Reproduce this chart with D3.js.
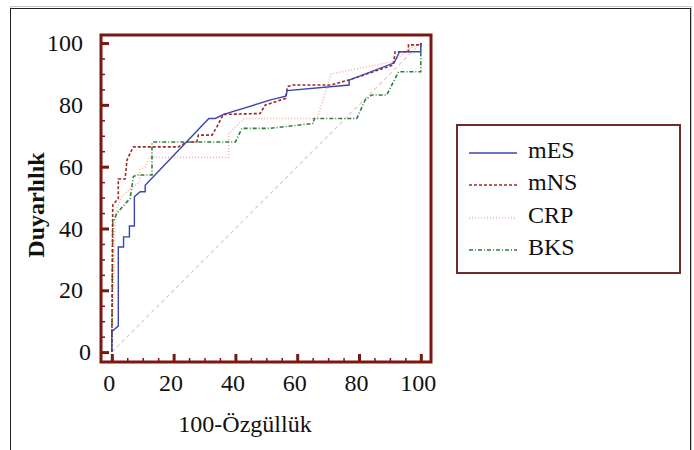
<!DOCTYPE html>
<html>
<head>
<meta charset="utf-8">
<title>ROC</title>
<script src="https://cdn.jsdelivr.net/npm/d3@7"></script>
<style>
  body { margin: 0; background: #fff; }
  text { font-family: "Liberation Serif", "Times New Roman", serif; fill: #111; }
</style>
</head>
<body>
<div id="chart"></div>
<script>
// ROC curves (x = 100-specificity, y = sensitivity)
var mES = [[0,0],[0,6.6],[2.1,8.5],[2.1,34],[3.8,34],[3.8,37.3],[5.7,37.3],[5.7,40.8],[7.3,40.8],[7.3,50.3],
  [9.2,51.9],[10.8,51.9],[10.8,54],[31.4,75.6],[33.5,75.6],[36.2,76.9],[51.4,81.6],[56.3,82.8],[56.8,84.6],
  [76.8,86.4],[76.8,88],[91.4,93.6],[93.1,97.2],[100,97.2],[100,100]];
var mNS = [[0,0],[0.3,47.6],[2.1,49.7],[2.1,56],[4.3,56],[4.9,62.1],[6,64.5],[7,66.4],[21.5,66.4],[24.3,68],
  [27.5,68],[28,70.2],[32.4,70.2],[34,72.9],[36.1,76.9],[48,77.2],[49.6,79.9],[56.3,82.1],[56.8,85.9],
  [58.8,86.4],[70.7,86.4],[76.6,88],[91.1,92.9],[91.7,97.2],[96,97.2],[96,99.4],[100,99.4],[100,100]];
var CRP = [[0,0],[0.5,20],[1,40],[1.5,46],[3,50],[6,53],[9,55],[9,59],[11,60],[12,63],[37.8,63],[37.8,70.8],
  [43,75.6],[66.5,75.6],[71,90],[91,94],[96,98],[100,100]];
var BKS = [[0,0],[0.3,41.7],[1.6,44.9],[5.9,49.7],[7,56.8],[8.1,57.3],[13,57.3],[13,67.5],[13.5,68],[40,68],
  [42.1,72.4],[51.2,72.4],[65.2,74],[65.5,75.6],[79.3,75.6],[82,81.6],[84.1,83.2],[89,83.2],[92.8,90.7],
  [100,90.7],[100,100]];
var diagonal = [[0,0],[100,100]];

var seriesNames = ["mES", "mNS", "CRP", "BKS"];
var seriesData = [mES, mNS, CRP, BKS];
var colors = ["#3a45b0", "#9c2b27", "#f6b3a4", "#2f7d3c"];
var dashes = [null, "3,2", "1,2", "4,2,1,2"];
var majorTicks = [0, 20, 40, 60, 80, 100];
var minorTicks = d3.range(0, 101, 5);

var W = 694, H = 450;
var svg = d3.select("#chart").append("svg").attr("width", W).attr("height", H);
svg.append("rect").attr("width", W).attr("height", H).attr("fill", "#fff");

// outer frame
svg.append("rect").attr("x", 10.5).attr("y", 6.5).attr("width", 681).attr("height", 470)
  .attr("fill", "none").attr("stroke", "#c8c8c8");
svg.append("rect").attr("x", 10.5).attr("y", 8.5).attr("width", 680).attr("height", 470)
  .attr("fill", "none").attr("stroke", "#222");

var x = d3.scaleLinear().domain([-3.5, 103.3]).range([101, 431]);
var y = d3.scaleLinear().domain([-3.2, 102.6]).range([362, 35]);
var axisCol = "#7a1812";

var line = d3.line().x(function(d) { return x(d[0]); }).y(function(d) { return y(d[1]); });

// chance line
svg.append("path").datum(diagonal).attr("d", line).attr("fill", "none")
  .attr("stroke", "#e6c9c9").attr("stroke-width", 1.2).attr("stroke-dasharray", "4,3");

// curves, drawn back to front
[2, 3, 1, 0].forEach(function(i) {
  svg.append("path").datum(seriesData[i]).attr("d", line).attr("fill", "none")
    .attr("stroke", colors[i]).attr("stroke-width", i == 0 ? 1.4 : 1.6)
    .attr("stroke-dasharray", dashes[i]);
});

// axes: minor ticks
var minL = svg.append("g").attr("transform", "translate(101,0)")
  .call(d3.axisLeft(y).tickValues(minorTicks).tickSize(-4).tickFormat(""));
var minB = svg.append("g").attr("transform", "translate(0,362)")
  .call(d3.axisBottom(x).tickValues(minorTicks).tickSize(-4).tickFormat(""));
// major ticks with labels
var majL = svg.append("g").attr("transform", "translate(101,0)")
  .call(d3.axisLeft(y).tickValues(majorTicks).tickSize(-8).tickPadding(18));
var majB = svg.append("g").attr("transform", "translate(0,362)")
  .call(d3.axisBottom(x).tickValues(majorTicks).tickSize(-8).tickPadding(12));

[minL, minB, majL, majB].forEach(function(g) {
  g.select(".domain").remove();
  g.selectAll("line").attr("stroke", axisCol);
});
minL.selectAll("line").attr("stroke-width", 1.5);
minB.selectAll("line").attr("stroke-width", 1.5);
majL.selectAll("line").attr("stroke-width", 3);
majB.selectAll("line").attr("stroke-width", 3);
[majL, majB].forEach(function(g) {
  g.selectAll("text").attr("font-size", 24).attr("fill", "#111")
    .attr("font-family", "'Liberation Serif', 'Times New Roman', serif");
});
majB.selectAll("text").attr("dx", -3);
majL.selectAll("text").filter(function(d) { return d === 0; }).attr("dx", 8);

// plot frame
svg.append("rect").attr("x", 101).attr("y", 35).attr("width", 330).attr("height", 327)
  .attr("fill", "none").attr("stroke", axisCol).attr("stroke-width", 3);

// axis titles
svg.append("text").attr("x", 245).attr("y", 432).attr("text-anchor", "middle")
  .attr("font-size", 24).text("100-Özgüllük");
svg.append("text").attr("transform", "translate(44,205) rotate(-90)").attr("text-anchor", "middle")
  .attr("font-size", 24).attr("font-weight", "bold").text("Duyarlılık");

// legend
svg.append("rect").attr("x", 457).attr("y", 125).attr("width", 223).attr("height", 148)
  .attr("fill", "#fff").attr("stroke", "#6e2b2b").attr("stroke-width", 2);
var rowsY = [150, 182, 215, 247];
seriesNames.forEach(function(name, i) {
  svg.append("line").attr("x1", 469).attr("x2", 517).attr("y1", rowsY[i] + 3).attr("y2", rowsY[i] + 3)
    .attr("stroke", colors[i]).attr("stroke-width", 1.5).attr("stroke-dasharray", dashes[i]);
  svg.append("text").attr("x", 528).attr("y", rowsY[i] + 8).attr("font-size", 24).text(name);
});
</script>
</body>
</html>
